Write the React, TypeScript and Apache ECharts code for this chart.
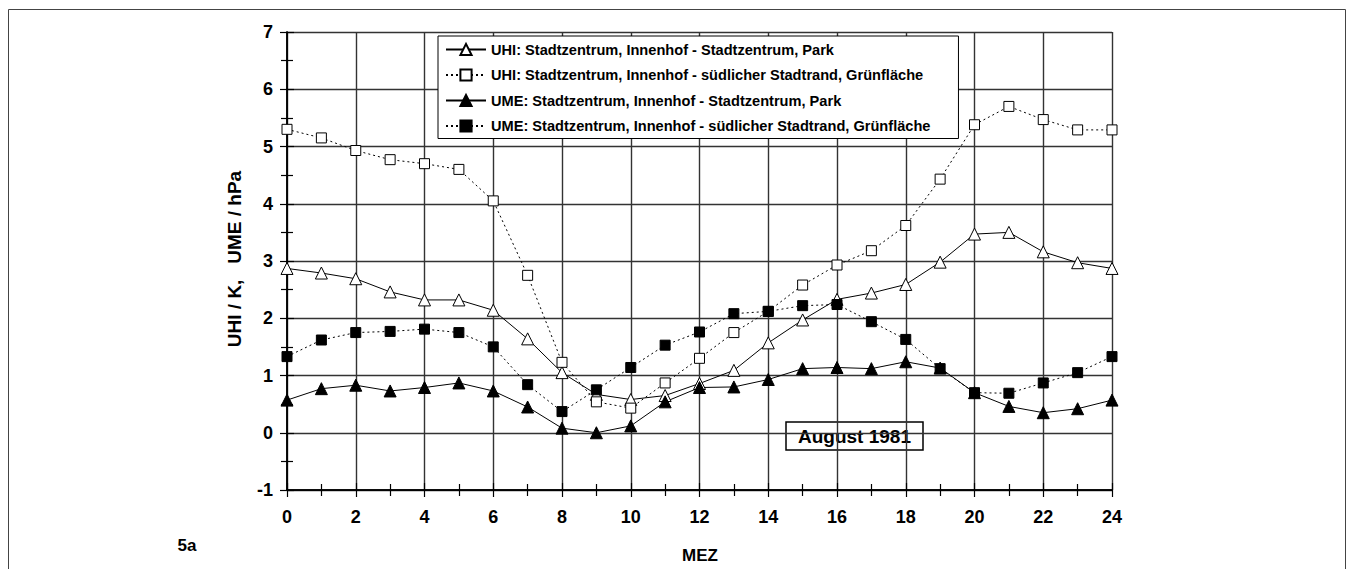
import React, { useEffect, useRef } from "react";
import * as echarts from "echarts";

const hours = [0, 1, 2, 3, 4, 5, 6, 7, 8, 9, 10, 11, 12, 13, 14, 15, 16, 17, 18, 19, 20, 21, 22, 23, 24];
const uhiPark = [2.87, 2.79, 2.69, 2.46, 2.32, 2.32, 2.14, 1.64, 1.05, 0.67, 0.58, 0.65, 0.86, 1.09, 1.57, 1.97, 2.33, 2.44, 2.59, 2.98, 3.47, 3.5, 3.16, 2.97, 2.87];
const uhiGruen = [5.3, 5.15, 4.93, 4.77, 4.7, 4.6, 4.05, 2.75, 1.23, 0.54, 0.43, 0.87, 1.3, 1.75, 2.12, 2.58, 2.93, 3.18, 3.62, 4.43, 5.38, 5.7, 5.47, 5.29, 5.29];
const umePark = [0.57, 0.77, 0.83, 0.73, 0.79, 0.87, 0.73, 0.45, 0.08, 0.0, 0.12, 0.54, 0.79, 0.8, 0.93, 1.12, 1.14, 1.12, 1.24, 1.13, 0.7, 0.46, 0.35, 0.42, 0.57];
const umeGruen = [1.33, 1.62, 1.75, 1.77, 1.81, 1.75, 1.5, 0.84, 0.37, 0.75, 1.14, 1.53, 1.76, 2.08, 2.12, 2.22, 2.24, 1.94, 1.63, 1.12, 0.7, 0.69, 0.87, 1.05, 1.33];
const seriesNames = [
  "UHI: Stadtzentrum, Innenhof - Stadtzentrum, Park",
  "UHI: Stadtzentrum, Innenhof - südlicher Stadtrand, Grünfläche",
  "UME: Stadtzentrum, Innenhof - Stadtzentrum, Park",
  "UME: Stadtzentrum, Innenhof - südlicher Stadtrand, Grünfläche",
];
const xTitle = "MEZ";
const yTitle = "UHI / K,   UME / hPa";
const boxLabel = "August 1981";
const panelLabel = "5a";

const FONT = "'Liberation Sans', Arial, Helvetica, sans-serif";

export default function App() {
  const ref = useRef<HTMLDivElement>(null);
  useEffect(() => {
    if (!ref.current) return;
    const chart = echarts.init(ref.current, null, { renderer: "svg" });
    const pairs = (vals: number[]) => hours.map((h, i) => [h, vals[i]]);
    const mk = (name: string, vals: number[], symbol: string, size: number, filled: boolean, dotted: boolean) => ({
      name,
      type: "line",
      data: pairs(vals),
      symbol,
      symbolSize: size,
      showAllSymbol: true,
      lineStyle: { color: "#000", width: 1, type: dotted ? [2, 3] : "solid" },
      itemStyle: { color: filled ? "#000" : "#fff", borderColor: "#000", borderWidth: 1 },
      emphasis: { disabled: true },
    });
    const xBase = {
      type: "value",
      min: 0,
      max: 24,
      interval: 2,
      position: "bottom",
      axisLine: { show: true, onZero: false, lineStyle: { color: "#000", width: 1.5 } },
      axisTick: { show: true, length: 7, lineStyle: { color: "#000", width: 1.2 } },
      minorTick: { show: true, splitNumber: 2, length: 6, lineStyle: { color: "#000", width: 1.2 } },
    };
    const yBase = {
      type: "value",
      min: -1,
      max: 7,
      interval: 1,
      position: "left",
      axisLine: { show: true, onZero: false, lineStyle: { color: "#000", width: 1.5 } },
      axisTick: { show: true, length: 7, lineStyle: { color: "#000", width: 1.2 } },
      minorTick: { show: true, splitNumber: 2, length: 6, lineStyle: { color: "#000", width: 1.2 } },
    };
    chart.setOption({
      animation: false,
      grid: { left: 287, right: 235, top: 32, bottom: 79 },
      xAxis: [
        {
          ...xBase,
          axisLabel: { show: true, color: "#000", fontFamily: FONT, fontWeight: "bold", fontSize: 18, margin: 18 },
          splitLine: { show: true, lineStyle: { color: "#333", width: 1.4 } },
        },
        { ...xBase, axisTick: { ...xBase.axisTick, inside: true }, axisLabel: { show: false }, splitLine: { show: false } },
      ],
      yAxis: [
        {
          ...yBase,
          axisLabel: { show: true, color: "#000", fontFamily: FONT, fontWeight: "bold", fontSize: 18, margin: 14 },
          splitLine: { show: true, lineStyle: { color: "#333", width: 1.4 } },
        },
        { ...yBase, axisTick: { ...yBase.axisTick, inside: true }, axisLabel: { show: false }, splitLine: { show: false } },
      ],
      legend: {
        orient: "vertical",
        left: 438,
        top: 36,
        itemWidth: 40,
        itemHeight: 14,
        itemGap: 10.5,
        padding: [6, 28, 5, 7],
        backgroundColor: "#fff",
        borderColor: "#000",
        borderWidth: 1,
        data: seriesNames,
        textStyle: { color: "#000", fontFamily: FONT, fontWeight: "bold", fontSize: 14.6 },
        selectedMode: false,
      },
      series: [
        mk(seriesNames[0], uhiPark, "triangle", 12, false, false),
        mk(seriesNames[1], uhiGruen, "rect", 10, false, true),
        mk(seriesNames[2], umePark, "triangle", 12, true, false),
        mk(seriesNames[3], umeGruen, "rect", 10, true, true),
      ],
      graphic: [
        {
          type: "rect",
          shape: { x: 8.5, y: 9.5, width: 1337, height: 620 },
          style: { fill: "none", stroke: "#444", lineWidth: 1 },
          silent: true,
        },
        {
          type: "group",
          z: 100,
          children: [
            {
              type: "rect",
              shape: { x: 786, y: 422, width: 137, height: 28 },
              style: { fill: "#fff", stroke: "#000", lineWidth: 1.5 },
            },
            {
              type: "text",
              x: 854.5,
              y: 436.5,
              style: { text: boxLabel, fill: "#000", font: `bold 19px ${FONT}`, align: "center", verticalAlign: "middle" },
            },
          ],
        },
        {
          type: "text",
          x: 700,
          y: 555,
          style: { text: xTitle, fill: "#000", font: `bold 17px ${FONT}`, align: "center", verticalAlign: "middle" },
        },
        {
          type: "text",
          x: 187,
          y: 545,
          style: { text: panelLabel, fill: "#000", font: `bold 17px ${FONT}`, align: "center", verticalAlign: "middle" },
        },
        {
          type: "text",
          x: 234,
          y: 259,
          rotation: Math.PI / 2,
          style: { text: yTitle, fill: "#000", font: `bold 19px ${FONT}`, align: "center", verticalAlign: "middle" },
        },
      ],
    });
    return () => chart.dispose();
  }, []);
  return <div ref={ref} style={{ position: "fixed", left: 0, top: 0, width: 1347, height: 569, background: "#fff" }} />;
}
